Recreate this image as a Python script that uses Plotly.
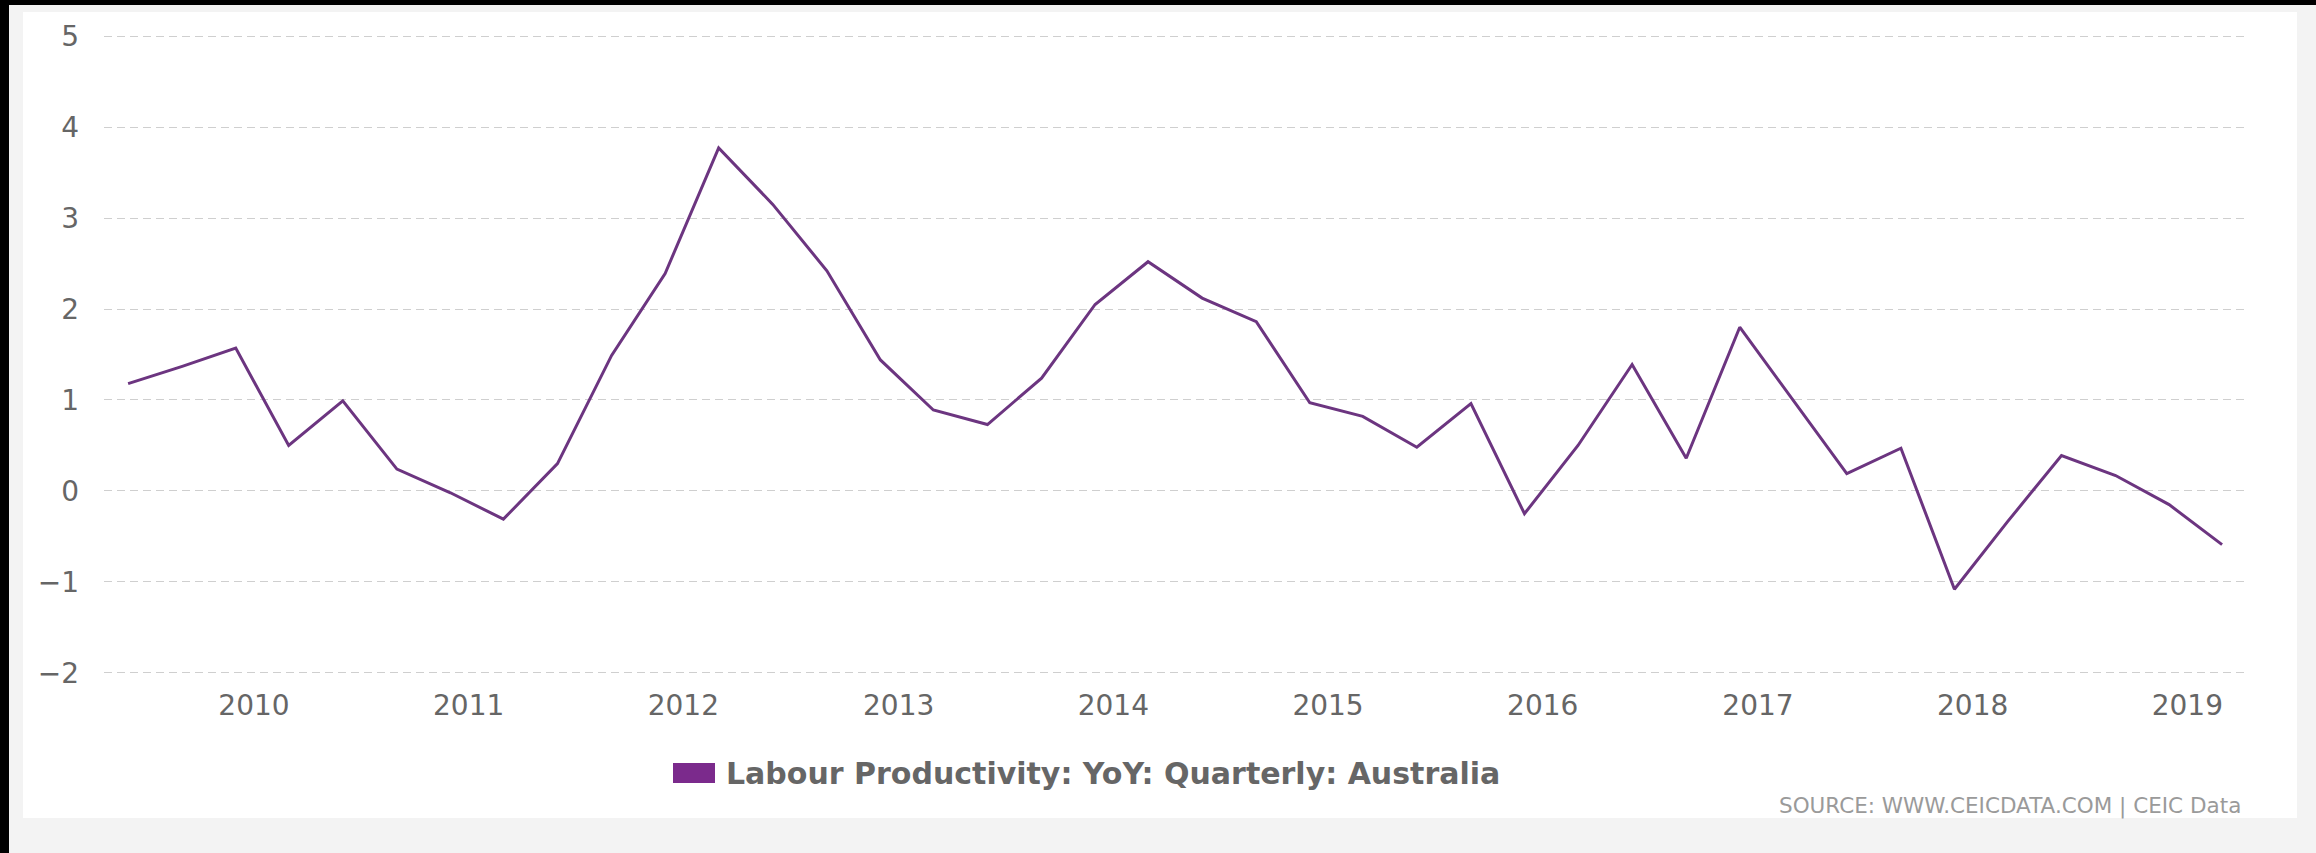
import pandas as pd
import plotly.graph_objects as go

# ---- data ----
series_name = "Labour Productivity: YoY: Quarterly: Australia"
quarter_dates = pd.date_range("2009-06-01", periods=40, freq="3MS")
values = [
    1.18, 1.37, 1.57, 0.50, 0.99, 0.24, -0.02, -0.31,
    0.30, 1.49, 2.39, 3.77, 3.15, 2.42, 1.44, 0.89,
    0.73, 1.24, 2.05, 2.52, 2.12, 1.86, 0.97, 0.82,
    0.48, 0.96, -0.25, 0.50, 1.39, 0.36, 1.80, 1.00,
    0.19, 0.47, -1.08, -0.34, 0.39, 0.17, -0.15, -0.59,
]
y_ticks = [-2, -1, 0, 1, 2, 3, 4, 5]
source_text = "SOURCE: WWW.CEICDATA.COM | CEIC Data"

# ---- layout geometry (pixels of the 2316x853 page) ----
W, H = 2316, 853
L, R, T, B = 104, 2245, 35, 674


def px(x):
    return (x - L) / (R - L)


def py(y):
    return (B - y) / (B - T)


fig = go.Figure()
fig.add_trace(go.Scatter(
    x=quarter_dates, y=values, mode="lines", name=series_name,
    line=dict(color="#6c3580", width=3), showlegend=False,
))

shapes = [
    # page background strips and white card
    dict(type="rect", xref="paper", yref="paper", x0=px(23), x1=px(2297), y0=py(818), y1=py(12),
         fillcolor="white", line=dict(width=0), layer="below"),
    dict(type="rect", xref="paper", yref="paper", x0=px(0), x1=px(9), y0=py(853), y1=py(0),
         fillcolor="black", line=dict(width=0), layer="below"),
    dict(type="rect", xref="paper", yref="paper", x0=px(0), x1=px(2316), y0=py(5), y1=py(0),
         fillcolor="black", line=dict(width=0), layer="below"),
    # legend swatch
    dict(type="rect", xref="paper", yref="paper", x0=px(673), x1=px(715), y0=py(783), y1=py(763),
         fillcolor="#7b2a8c", line=dict(width=0)),
]

annotations = [
    dict(text=series_name, xref="paper", yref="paper", x=px(724), y=py(773),
         xanchor="left", yanchor="middle", showarrow=False,
         font=dict(family="DejaVu Sans", size=30, color="#666666", weight="bold")),
    dict(text=source_text, xref="paper", yref="paper", x=px(2243), y=py(806),
         xanchor="right", yanchor="middle", showarrow=False,
         font=dict(family="DejaVu Sans", size=21.5, color="#9a9a9a")),
]

fig.update_layout(
    width=W, height=H,
    margin=dict(l=L, r=W - R, t=T, b=H - B, pad=0),
    paper_bgcolor="#f3f3f3",
    plot_bgcolor="white",
    shapes=shapes,
    annotations=annotations,
    showlegend=False,
    xaxis=dict(
        type="date",
        range=["2009-04-21", "2019-04-09"],
        tick0="2010-01-01", dtick="M12", tickformat="%Y",
        showgrid=False, zeroline=False, showline=False, ticks="",
        ticklabelstandoff=12,
        tickfont=dict(family="DejaVu Sans", size=28, color="#666666"),
    ),
    yaxis=dict(
        range=[-2.012, 5.012], tickvals=y_ticks,
        showgrid=True, gridcolor="#cfcfcf", gridwidth=1, griddash="8px,5px",
        zeroline=False, showline=False, ticks="",
        ticklabelstandoff=24,
        tickfont=dict(family="DejaVu Sans", size=28, color="#666666"),
    ),
)

fig.write_html(
    "out.html",
    config={"displayModeBar": False},
    post_script="document.body.style.margin='0px';",
)
